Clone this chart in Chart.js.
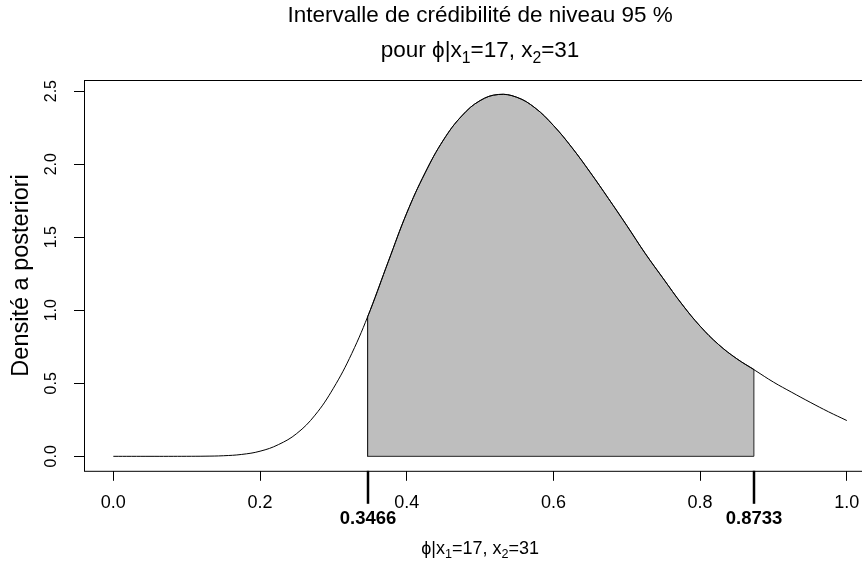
<!DOCTYPE html>
<html lang="fr">
<head>
<meta charset="utf-8">
<title>Intervalle de crédibilité</title>
<script src="https://cdn.jsdelivr.net/npm/chart.js@4.4.1/dist/chart.umd.min.js"></script>
<style>
  html, body { margin:0; padding:0; background:#fff; }
  canvas { display:block; }
</style>
</head>
<body>
<canvas id="post" width="862" height="563"></canvas>
<script>
// densité a posteriori de phi sur une grille de pas 0.025
const phi = [0, 0.025, 0.05, 0.075, 0.1, 0.125, 0.15, 0.175, 0.2, 0.225,
  0.25, 0.275, 0.3, 0.325, 0.35, 0.375, 0.4, 0.425, 0.45, 0.475,
  0.5, 0.525, 0.55, 0.575, 0.6, 0.625, 0.65, 0.675, 0.7, 0.725,
  0.75, 0.775, 0.8, 0.825, 0.85, 0.875, 0.9, 0.925, 0.95, 0.975, 1];
const densite = [0, 0, 0, 0, 0.0003, 0.001, 0.004, 0.013, 0.035, 0.08,
  0.156, 0.282, 0.466, 0.703, 0.997, 1.335, 1.665, 1.94, 2.165, 2.33,
  2.435, 2.477, 2.458, 2.385, 2.265, 2.115, 1.945, 1.765, 1.58, 1.39,
  1.215, 1.043, 0.891, 0.766, 0.668, 0.588, 0.508, 0.438, 0.37, 0.305, 0.245];

// bornes de l'intervalle à 95 % et densité en ces points
const bornes = [0.3466, 0.8733];
const densiteBornes = [0.955, 0.595];

const xTicks = [0, 0.2, 0.4, 0.6, 0.8, 1.0];
const yTicks = [0, 0.5, 1, 1.5, 2, 2.5];

const FONT = '"Liberation Sans", Arial, Helvetica, sans-serif';

const courbe = phi.map((x, i) => ({ x, y: densite[i] }));
const zone = [{ x: bornes[0], y: densiteBornes[0] }]
  .concat(courbe.filter(p => p.x > bornes[0] && p.x < bornes[1]))
  .concat([{ x: bornes[1], y: densiteBornes[1] }]);
// côtés verticaux et base du polygone grisé
const cadre = [
  { x: bornes[0], y: densiteBornes[0] }, { x: bornes[0], y: 0 },
  { x: bornes[1], y: 0 }, { x: bornes[1], y: densiteBornes[1] }
];
const yMax = Math.max(...densite);

// texte avec indices (x1, x2)
function largeur(ctx, parts, size) {
  let w = 0;
  parts.forEach(([t, sub]) => {
    ctx.font = (sub ? size * 0.7 : size) + 'px ' + FONT;
    w += ctx.measureText(t).width;
  });
  return w;
}
function ecrire(ctx, parts, cx, y, size) {
  let x = cx - largeur(ctx, parts, size) / 2;
  ctx.textAlign = 'left';
  ctx.textBaseline = 'alphabetic';
  parts.forEach(([t, sub]) => {
    ctx.font = (sub ? size * 0.7 : size) + 'px ' + FONT;
    ctx.fillText(t, x, sub ? y + size * 0.25 : y);
    x += ctx.measureText(t).width;
  });
}
const etiquette = [['ϕ|x', 0], ['1', 1], ['=17, x', 0], ['2', 1], ['=31', 0]];

const habillage = {
  id: 'habillage',
  afterDraw(chart) {
    const { ctx, chartArea: a, scales: { x, y } } = chart;
    ctx.save();
    ctx.strokeStyle = '#000';
    ctx.fillStyle = '#000';
    ctx.lineWidth = 1;
    // le cadre continue au-delà du bord droit
    ctx.strokeRect(a.left + 0.5, a.top + 0.5, a.right - a.left + 20, a.bottom - a.top);

    // graduations de l'axe vertical, écrites verticalement
    ctx.font = '16px ' + FONT;
    ctx.textAlign = 'center';
    ctx.textBaseline = 'alphabetic';
    yTicks.forEach(v => {
      ctx.save();
      ctx.translate(a.left - 28, y.getPixelForValue(v));
      ctx.rotate(-Math.PI / 2);
      ctx.fillText(v.toFixed(1), 0, 0);
      ctx.restore();
    });
    ctx.save();
    ctx.font = '23.5px ' + FONT;
    ctx.translate(a.left - 56, (a.top + a.bottom) / 2);
    ctx.rotate(-Math.PI / 2);
    ctx.fillText('Densité a posteriori', 0, 0);
    ctx.restore();

    // bornes de l'intervalle
    ctx.lineWidth = 2.5;
    ctx.font = 'bold 18.5px ' + FONT;
    bornes.forEach(b => {
      const px = Math.round(x.getPixelForValue(b));
      ctx.beginPath();
      ctx.moveTo(px, a.bottom);
      ctx.lineTo(px, a.bottom + 33);
      ctx.stroke();
      ctx.fillText(b.toFixed(4), px, a.bottom + 53);
    });

    // titres centrés sur le milieu du domaine de phi
    const cx = x.getPixelForValue(0.5);
    ctx.font = '22.5px ' + FONT;
    ctx.fillText('Intervalle de crédibilité de niveau 95 %', cx, 22);
    ecrire(ctx, [['pour ', 0]].concat(etiquette), cx, 57, 22.5);
    ecrire(ctx, etiquette, cx, a.bottom + 83, 18);
    ctx.restore();
  }
};

const axe = (ticks) => ({
  afterBuildTicks: s => { s.ticks = ticks.map(value => ({ value })); },
  grid: { drawOnChartArea: false, tickLength: 10, color: '#000', lineWidth: 1 },
  border: { display: false }
});

new Chart(document.getElementById('post'), {
  type: 'line',
  data: {
    datasets: [
      { data: courbe, borderColor: '#000', borderWidth: 1, pointRadius: 0,
        tension: 0.4, fill: false },
      { data: cadre, borderColor: '#222', borderWidth: 1, pointRadius: 0, fill: false },
      { data: zone, borderColor: '#222', borderWidth: 1, backgroundColor: '#bebebe',
        pointRadius: 0, tension: 0.4, fill: 'origin' }
    ]
  },
  options: {
    responsive: false,
    animation: false,
    events: [],
    layout: { padding: { left: 74, top: 80, right: 0, bottom: 38.6 } },
    plugins: { legend: { display: false }, tooltip: { enabled: false } },
    scales: {
      x: Object.assign(axe(xTicks), {
        // domaine élargi de 4 % à gauche ; à droite le cadre sort de la figure
        type: 'linear', min: -0.04, max: 1.0207,
        afterFit: s => { s.paddingRight = 0; },
        ticks: { padding: 11, color: '#000', maxRotation: 0, autoSkip: false,
          font: { family: FONT, size: 18 }, callback: v => v.toFixed(1) }
      }),
      y: Object.assign(axe(yTicks), {
        min: -0.04 * yMax, max: 1.04 * yMax,
        ticks: { display: false }
      })
    }
  },
  plugins: [habillage]
});
</script>
</body>
</html>
